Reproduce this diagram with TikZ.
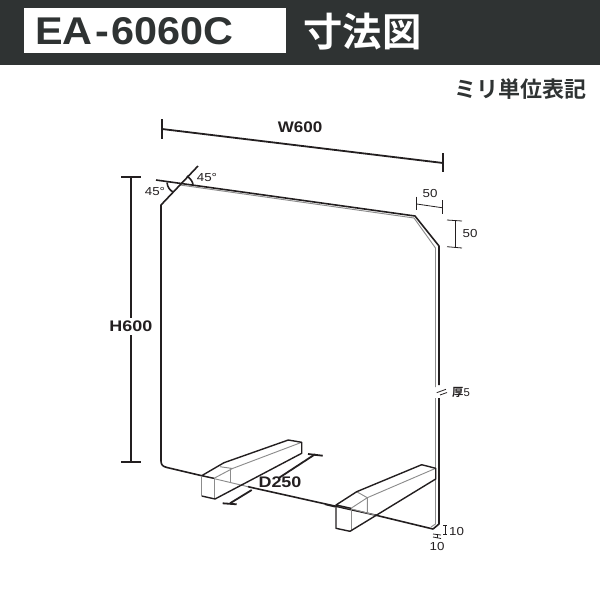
\documentclass[tikz,border=0pt]{standalone}
\usepackage{fontspec}
\setmainfont{Liberation Sans}
\newfontfamily\cjk{Noto Sans CJK JP}[BoldFont={Noto Sans CJK JP Bold}]
\usetikzlibrary{calc}
\definecolor{band}{HTML}{2F3333}
\definecolor{ink}{HTML}{231F20}
\tikzset{
  x=0.75pt,y=-0.75pt,
  panel/.style={draw=ink,line width=1.2pt,line join=round},
  inner/.style={draw=black!45,line width=0.7pt},
  dimline/.style={draw=ink,line width=1.35pt},
  thindim/.style={draw=ink,line width=0.6pt},
  foot/.style={draw=ink,line width=1.05pt,line join=round},
  lbl/.style={inner sep=0pt,text=ink},
  biglbl/.style={lbl,font=\bfseries\fontsize{11.5}{11.5}\selectfont},
  smalllbl/.style={lbl,xscale=1.15,font=\fontsize{8.7}{8.7}\selectfont},
}
\begin{document}
\begin{tikzpicture}
\useasboundingbox (0,0) rectangle (600,600);
% header
\fill[band] (0,0) rectangle (600,65);
\fill[white] (24,8) rectangle (286,53);
\node[lbl,text=band,xscale=1.07,font=\bfseries\fontsize{29}{29}\selectfont] (model) at (134.5,31) {EA\kern2pt-\kern2pt6060C};
\node[inner sep=0pt,text=white,font=\cjk\bfseries\fontsize{29.5}{29.5}\selectfont] (title) at (362.5,32) {寸法図};
\node[lbl,text=band,font=\cjk\bfseries\fontsize{16.5}{17}\selectfont] (unit) at (520,89) {ミリ単位表記};
% inner panel edge (grey)
\draw[inner] (180,185) -- (414,218) -- (435.5,248) -- (435.5,387);
\draw[inner] (435.5,398) -- (435.5,524) -- (431,527);
% panel outline
\draw[panel] (156,180) -- (415,216) -- (439,246) -- (439,385);
\draw[panel] (439,398) -- (439,524) -- (433,529) -- (375,515);
\draw[panel] (248,486.7) -- (375,515);
\draw[panel] (325,504.3) -- (335,506.7);
\draw[panel] (161,461) -- (161,205) -- (198,166);
\draw[panel] (201.7,475.7) -- (167,467.5) .. controls (163,466.5) and (161,465) .. (161,461);
% left foot
\draw[inner] (201.7,475.7) -- (248,486.7);
\draw[inner] (214,478.3) -- (214,499);
\draw[inner] (220,466.7) -- (232.5,468.5) -- (301.7,442.3);
\draw[inner] (230.7,468.3) -- (230.7,481.7);
\draw[inner] (214,478.3) -- (232.5,468.5);
\draw[foot] (214,478.3) -- (201.7,475.7) -- (224,462.7) -- (288.3,440) -- (301.7,442.3) -- (301.7,453.3) -- (215,499) -- (201.7,496);
\draw[inner] (201.7,496) -- (201.7,475.7);
% right foot
\draw[inner] (336,505) -- (375,515);
\draw[inner] (351,508.3) -- (351,531.3);
\draw[inner] (351,508.3) -- (367.3,497.7) -- (435.7,468.3);
\draw[inner] (356.7,491.7) -- (367.3,497.7) -- (367.3,513.3);
\draw[foot] (351,508.3) -- (336,505) -- (356.7,491.7) -- (421.7,464.7) -- (435.7,468.3) -- (435.7,479) -- (350,531.3) -- (336,528.3) -- (336,505);
% angle marks
\draw[panel] (167,182.5) .. controls (167.5,187) and (169.5,190) .. (173,192);
\draw[panel] (187,176) .. controls (191,179) and (193,182) .. (193,185.5);
\node[smalllbl] (a1) at (155,192) {45°};
\node[smalllbl] (a2) at (207,177.5) {45°};
% W dim
\coordinate (w1) at (162,129); \coordinate (w2) at (443,163);
\draw[dimline] (w1) -- (w2);
\draw[dimline] (162,119) -- (162,139);
\draw[dimline] (443,153) -- (443,172);
\node[biglbl,xscale=1.11] (wl) at (300,127.5) {W600};
% H dim
\coordinate (h1) at (131,177); \coordinate (h2) at (131,462);
\coordinate (h3) at (131,318); \coordinate (h4) at (131,335);
\draw[dimline] (h1) -- (h3);
\draw[dimline] (h4) -- (h2);
\draw[dimline] (121,177) -- (141,177);
\draw[dimline] (121,462) -- (141,462);
\node[biglbl,xscale=1.17] (hl) at (130.8,326.7) {H600};
% chamfer dims
\coordinate (c1) at (416.7,204); \coordinate (c2) at (442,207.7);
\draw[thindim] (c1) -- (c2);
\draw[thindim] (416.7,196.7) -- (416.7,210);
\draw[thindim] (442,200) -- (442,214);
\node[smalllbl] (t50) at (430,194) {50};
\coordinate (c3) at (455,221); \coordinate (c4) at (455,247);
\draw[thindim] (c3) -- (c4);
\draw[thindim] (447,220) -- (462,221);
\draw[thindim] (447,246.7) -- (462,248);
\node[smalllbl] (r50) at (470,234) {50};
% thickness
\draw[thindim] (436.7,392.7) -- (446,389.3);
\draw[thindim] (440,395) -- (447,392.5);
\node[lbl,font=\fontsize{8.5}{8.5}\selectfont] (thick) at (461,392) {{\cjk\bfseries 厚}5};
% D dim
\draw[dimline] (230,503.3) -- (251.7,490);
\draw[dimline] (278.3,478.3) -- (315,454.3);
\draw[dimline] (222.7,503.3) -- (236.7,504.3);
\draw[dimline] (308,454) -- (322.7,455.7);
\node[biglbl,xscale=1.17] (dl) at (280,482.5) {D250};
% 10 dims
\draw[thindim] (445,525.5) -- (445,534);
\draw[thindim] (443,525.5) -- (447,525.5);
\draw[thindim] (443,534) -- (447,534);
\node[smalllbl] (b10) at (456.5,531) {10};
\draw[thindim] (437.5,534.5) -- (437.5,538);
\draw[thindim] (433,534) -- (441,535);
\draw[thindim] (433,537) -- (441,538.5);
\node[smalllbl] (c10) at (437,547) {10};
\end{tikzpicture}
\end{document}
